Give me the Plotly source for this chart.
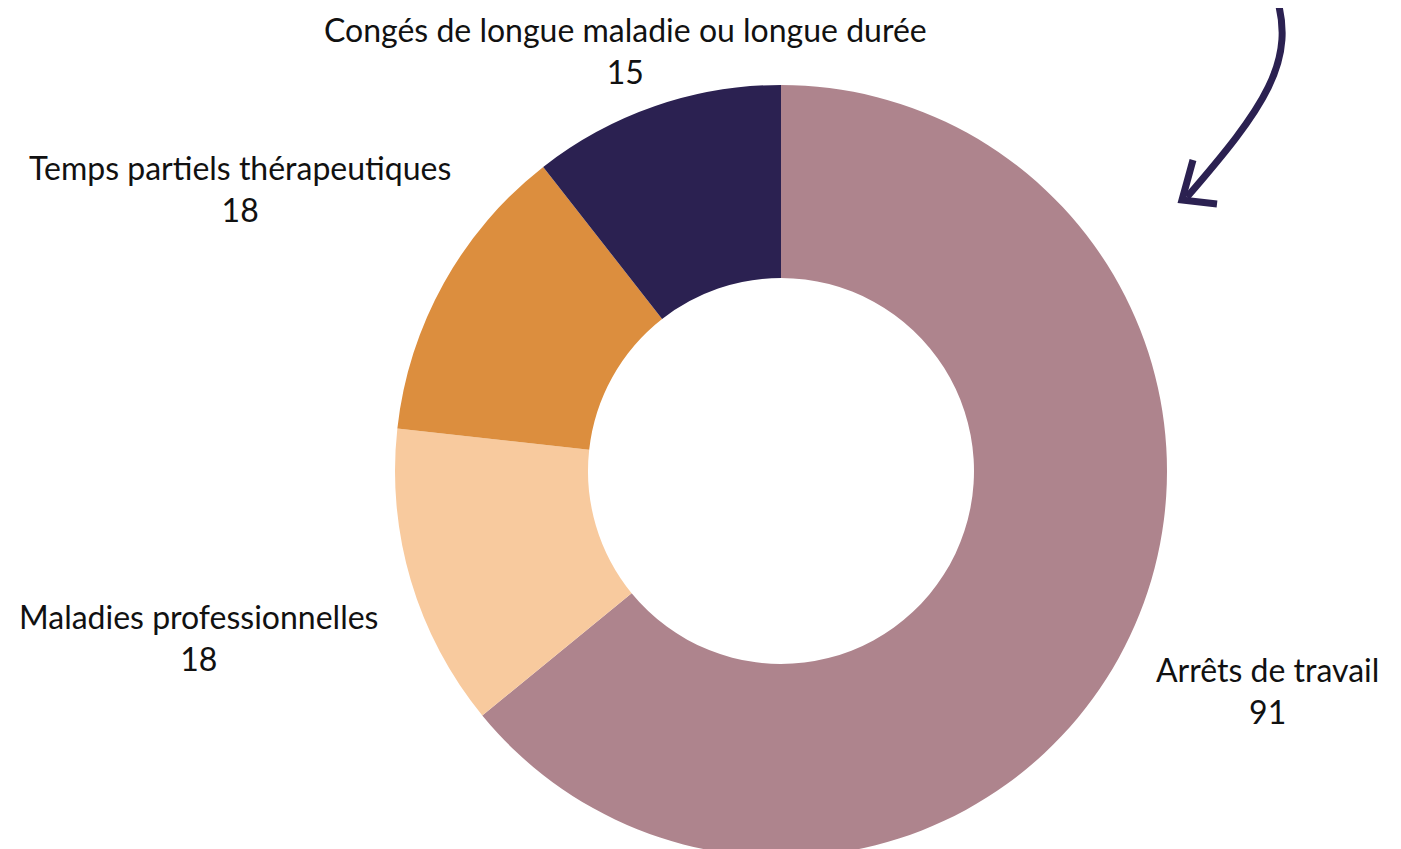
import plotly.graph_objects as go

labels = ["Arrêts de travail", "Maladies professionnelles", "Temps partiels thérapeutiques",
          "Congés de longue maladie ou longue durée"]
values = [91, 18, 18, 15]
colors = ["#AE848D", "#F8CA9E", "#DC8E3E", "#2B2151"]

# label placement (page pixel center x, center y of the two-line block)
label_pos = [(1267, 690), (198, 637), (240, 189), (625, 45)]

W, H = 1401, 849
OFF = 8  # page body margin
cx, cy, r = 781 - OFF, 471 - OFF, 386

fig = go.Figure(go.Pie(
    labels=labels, values=values, hole=0.5, sort=False, direction="clockwise", rotation=0,
    marker=dict(colors=colors, line=dict(width=0)), textinfo="none", showlegend=False,
    hoverinfo="label+value",
    domain=dict(x=[(cx - r) / W, (cx + r) / W], y=[1 - (cy + r) / H, 1 - (cy - r) / H]),
))

font = dict(family="Lato, Open Sans, sans-serif", size=32, color="#111111")
for i, (lab, val, (px, py)) in enumerate(zip(labels, values, label_pos)):
    if i == 3:
        yv, ya = 1.0, "top"
    else:
        yv, ya = 1 - (py - OFF) / H, "middle"
    fig.add_annotation(x=(px - OFF) / W, y=yv, xref="paper", yref="paper",
                       text=f"{lab}<br>{val}", showarrow=False, font=font,
                       xanchor="center", yanchor=ya, align="center")

def P(x, y):
    return f"{(x - OFF) / W:.5f},{1 - (y - OFF) / H:.5f}"

arrow_color = "#2B2151"
fig.add_shape(type="path", xref="paper", yref="paper",
              path=f"M {P(1274, -10)} C {P(1300, 60)} {P(1262, 110)} {P(1187, 197)}",
              line=dict(color=arrow_color, width=7))
fig.add_shape(type="path", xref="paper", yref="paper",
              path=f"M {P(1193, 160)} L {P(1182, 200)} L {P(1217, 204)}",
              line=dict(color=arrow_color, width=7))

fig.update_layout(width=W, height=H, margin=dict(l=0, r=0, t=0, b=0),
                  paper_bgcolor="white", plot_bgcolor="white")
fig.write_html("out.html")
